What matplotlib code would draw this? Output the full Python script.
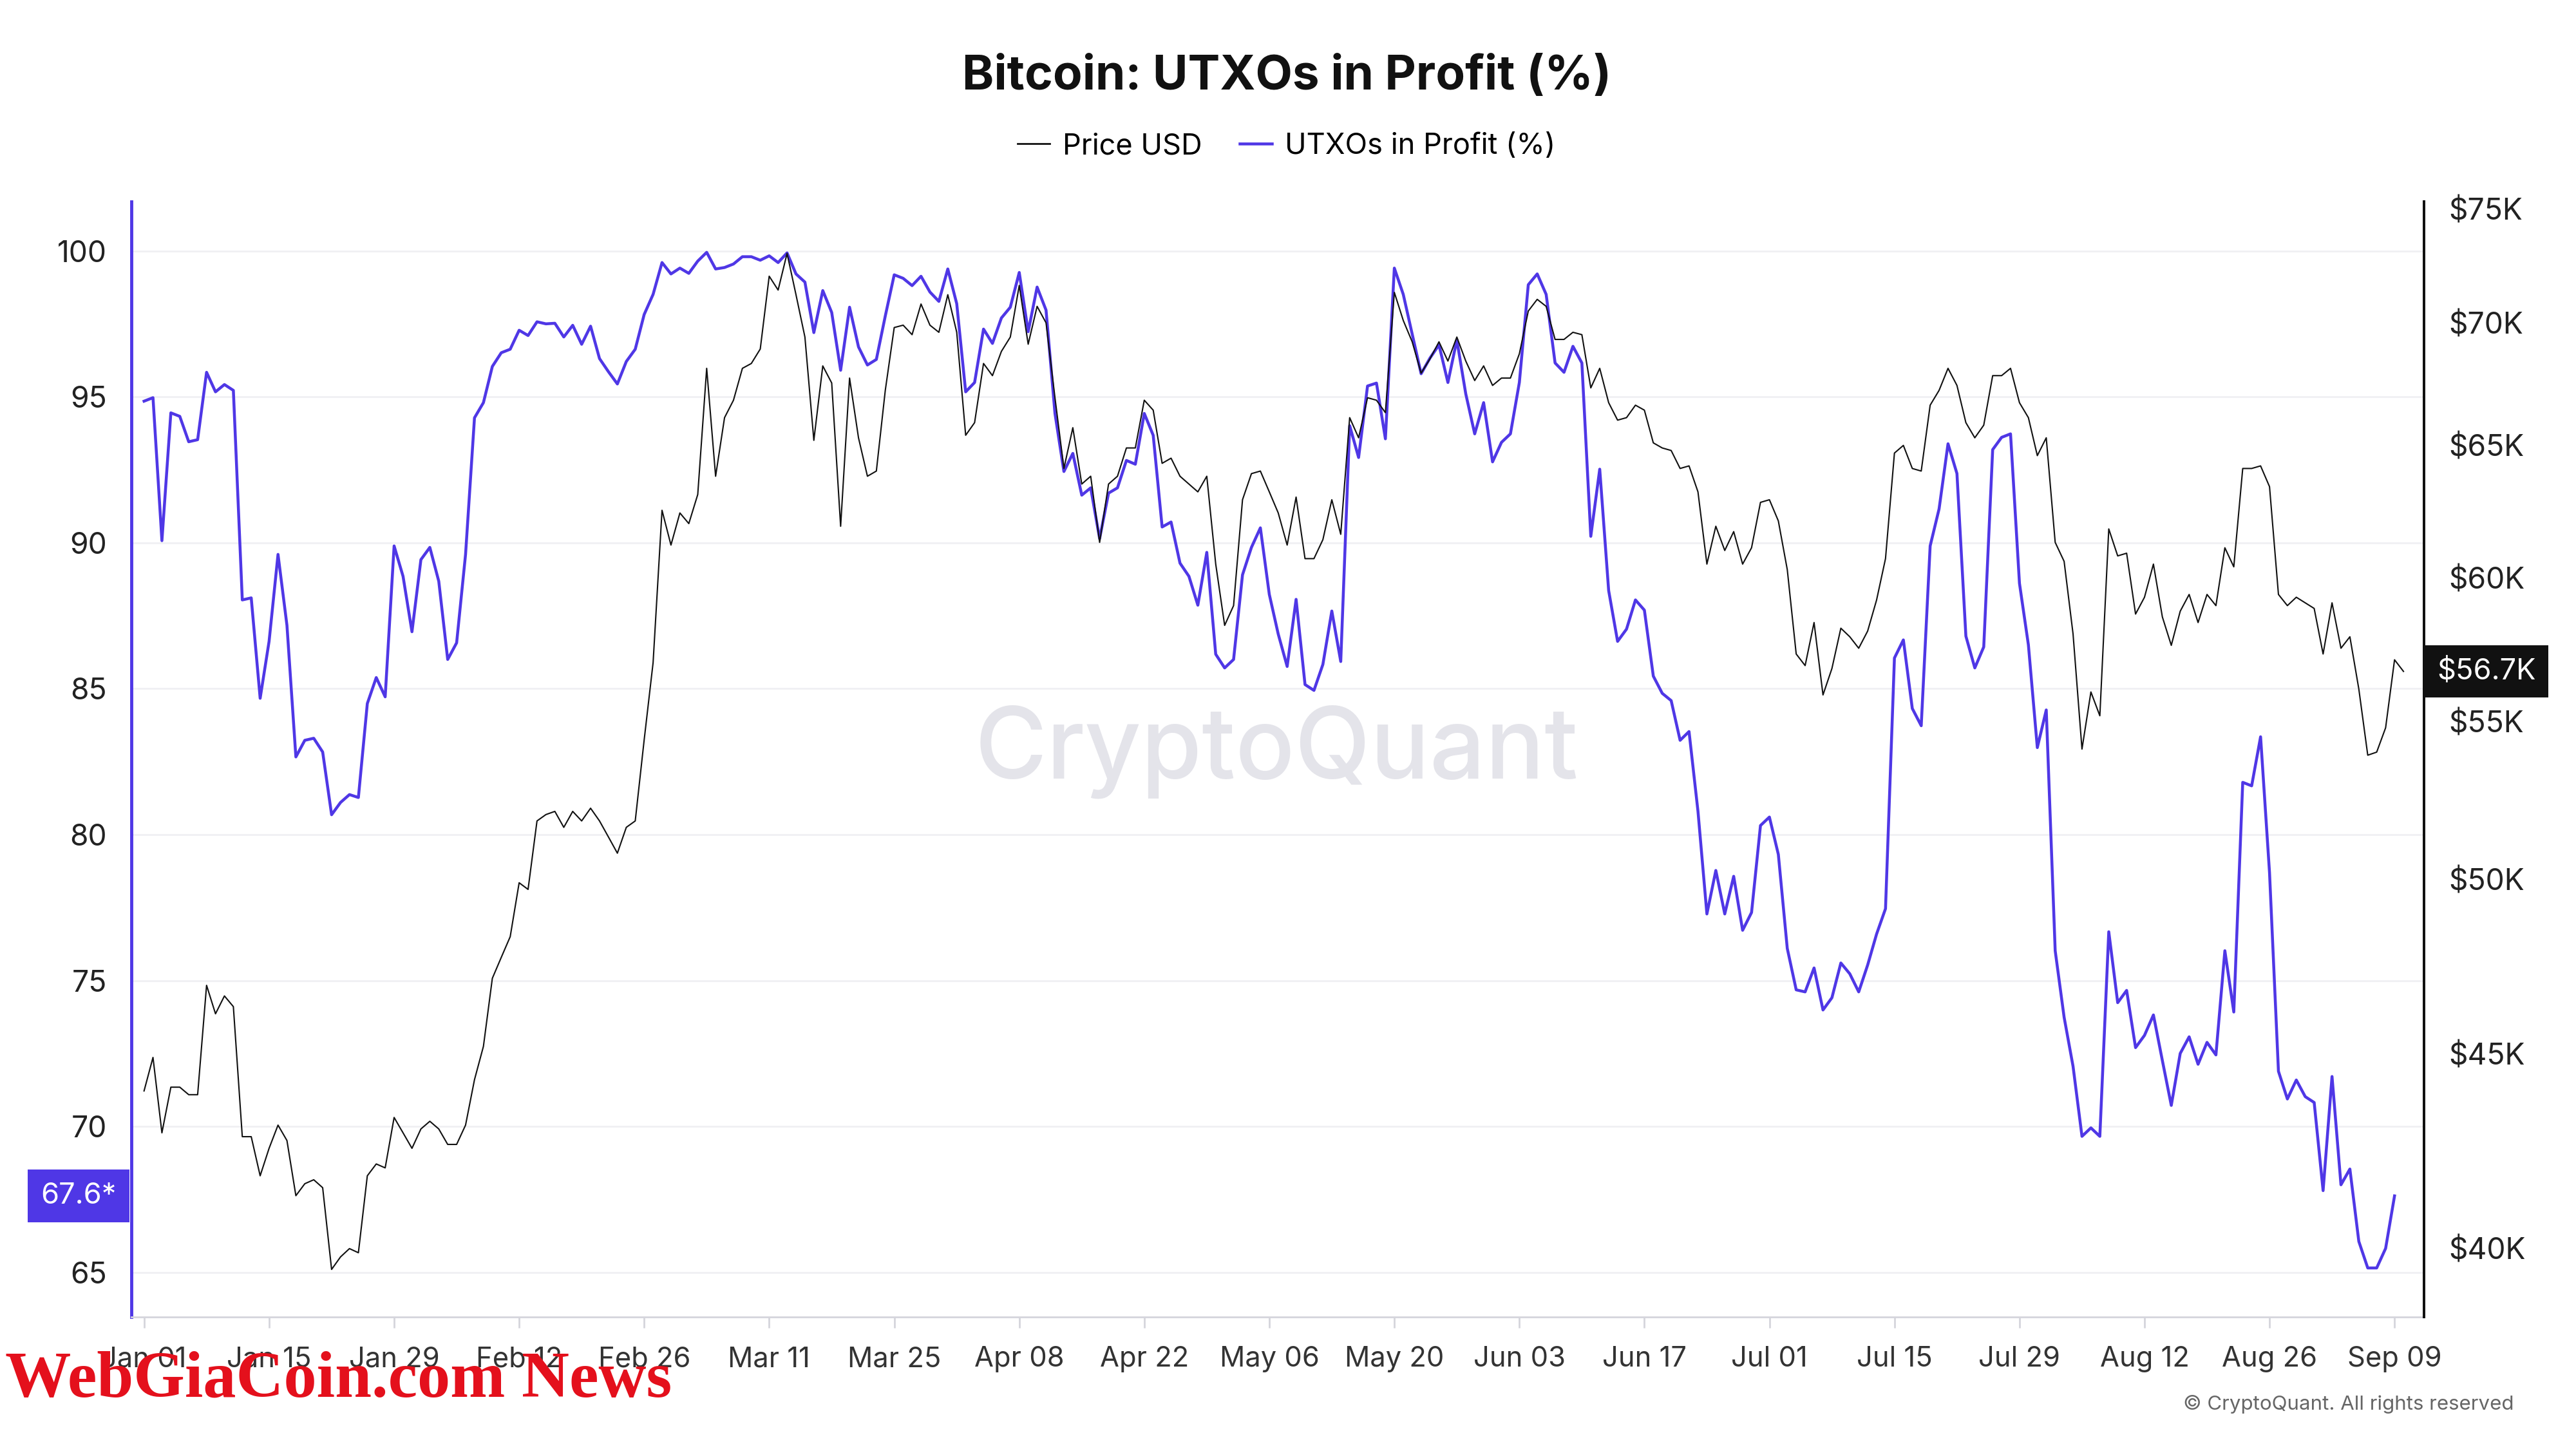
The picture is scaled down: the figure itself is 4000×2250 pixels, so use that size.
import numpy as np
import pandas as pd
import matplotlib
matplotlib.use("Agg")
import matplotlib.pyplot as plt
import matplotlib.dates as mdates
from matplotlib.ticker import FixedLocator, NullLocator
from matplotlib.transforms import blended_transform_factory
from matplotlib.lines import Line2D

plt.rcParams['font.family'] = ['Inter', 'DejaVu Sans']

# --- données ---
start_date = "2024-01-01"

utxo_profit = [
    94.85, 94.97, 90.07, 94.45, 94.33, 93.46, 93.53, 95.84, 95.17, 95.42,
    95.22, 88.04, 88.11, 84.67, 86.62, 89.60, 87.17, 82.66, 83.23, 83.30,
    82.83, 80.68, 81.10, 81.37, 81.27, 84.49, 85.38, 84.72, 89.89, 88.85,
    86.95, 89.42, 89.84, 88.68, 86.00, 86.57, 89.60, 94.28, 94.80, 96.04,
    96.51, 96.63, 97.28, 97.10, 97.57, 97.50, 97.52, 97.05, 97.45, 96.80,
    97.42, 96.31, 95.86, 95.44, 96.21, 96.63, 97.82, 98.51, 99.60, 99.21,
    99.41, 99.23, 99.65, 99.95, 99.38, 99.43, 99.55, 99.80, 99.80, 99.68,
    99.83, 99.60, 99.93, 99.21, 98.93, 97.20, 98.64, 97.89, 95.91, 98.07,
    96.71, 96.09, 96.28, 97.77, 99.18, 99.06, 98.81, 99.13, 98.59, 98.27,
    99.38, 98.19, 95.17, 95.49, 97.32, 96.83, 97.70, 98.07, 99.26, 97.23,
    98.76, 97.97, 94.43, 92.44, 93.06, 91.63, 91.88, 90.14, 91.70, 91.88,
    92.82, 92.69, 94.43, 93.68, 90.54, 90.71, 89.30, 88.85, 87.86, 89.67,
    86.18, 85.71, 86.00, 88.90, 89.84, 90.51, 88.23, 86.87, 85.76, 88.06,
    85.14, 84.94, 85.83, 87.66, 85.93, 94.01, 92.92, 95.37, 95.47, 93.56,
    99.41, 98.51, 97.15, 95.79, 96.33, 96.78, 95.49, 96.95, 95.10, 93.73,
    94.80, 92.77, 93.44, 93.73, 95.49, 98.84, 99.21, 98.51, 96.16, 95.84,
    96.73, 96.16, 90.22, 92.52, 88.36, 86.62, 87.04, 88.04, 87.69, 85.43,
    84.84, 84.59, 83.23, 83.53, 80.80, 77.28, 78.77, 77.28, 78.57, 76.72,
    77.33, 80.31, 80.60, 79.32, 76.10, 74.68, 74.61, 75.43, 73.99, 74.41,
    75.60, 75.23, 74.61, 75.53, 76.59, 77.46, 86.05, 86.67, 84.32, 83.73,
    89.89, 91.16, 93.39, 92.37, 86.80, 85.71, 86.43, 93.19, 93.61, 93.73,
    88.61, 86.50, 82.98, 84.27, 76.02, 73.74, 72.06, 69.66, 69.95, 69.66,
    76.67, 74.24, 74.66, 72.70, 73.12, 73.82, 72.26, 70.72, 72.50, 73.07,
    72.13, 72.88, 72.45, 76.02, 73.92, 81.79, 81.67, 83.35, 78.70, 71.89,
    70.94, 71.59, 71.02, 70.82, 67.80, 71.71, 68.00, 68.54, 66.06, 65.15,
    65.15, 65.82, 67.62,
]

# prix en milliers de dollars
price_k = [
    44.0, 44.9, 42.9, 44.1, 44.1, 43.9, 43.9, 46.9, 46.1, 46.6,
    46.3, 42.8, 42.8, 41.8, 42.5, 43.1, 42.7, 41.3, 41.6, 41.7,
    41.5, 39.5, 39.8, 40.0, 39.9, 41.8, 42.1, 42.0, 43.3, 42.9,
    42.5, 43.0, 43.2, 43.0, 42.6, 42.6, 43.1, 44.3, 45.2, 47.1,
    47.7, 48.3, 49.9, 49.7, 51.8, 52.0, 52.1, 51.6, 52.1, 51.8,
    52.2, 51.8, 51.3, 50.8, 51.6, 51.8, 54.4, 57.0, 62.5, 61.2,
    62.4, 62.0, 63.1, 68.1, 63.8, 66.1, 66.8, 68.1, 68.3, 68.9,
    72.0, 71.4, 73.0, 71.2, 69.4, 65.2, 68.2, 67.5, 61.9, 67.7,
    65.3, 63.8, 64.0, 67.2, 69.8, 69.9, 69.5, 70.8, 69.9, 69.6,
    71.2, 69.6, 65.4, 65.9, 68.3, 67.8, 68.8, 69.4, 71.6, 69.1,
    70.7, 70.0, 66.9, 64.1, 65.7, 63.5, 63.8, 61.3, 63.5, 63.8,
    64.9, 64.9, 66.8, 66.4, 64.3, 64.5, 63.8, 63.5, 63.2, 63.8,
    60.5, 58.3, 59.0, 62.9, 63.9, 64.0, 63.2, 62.4, 61.2, 63.0,
    60.7, 60.7, 61.4, 62.9, 61.6, 66.1, 65.3, 66.9, 66.8, 66.3,
    71.3, 70.1, 69.2, 67.9, 68.5, 69.2, 68.4, 69.4, 68.4, 67.6,
    68.2, 67.4, 67.7, 67.7, 68.7, 70.5, 71.0, 70.7, 69.3, 69.3,
    69.6, 69.5, 67.3, 68.1, 66.7, 66.0, 66.1, 66.6, 66.4, 65.1,
    64.9, 64.8, 64.1, 64.2, 63.2, 60.5, 61.9, 61.0, 61.7, 60.5,
    61.1, 62.8, 62.9, 62.1, 60.3, 57.3, 56.9, 58.4, 55.9, 56.8,
    58.2, 57.9, 57.5, 58.1, 59.2, 60.7, 64.7, 65.0, 64.1, 64.0,
    66.6, 67.2, 68.1, 67.4, 65.9, 65.3, 65.8, 67.8, 67.8, 68.1,
    66.7, 66.1, 64.6, 65.3, 61.3, 60.6, 58.0, 54.1, 56.0, 55.2,
    61.8, 60.8, 60.9, 58.7, 59.3, 60.5, 58.6, 57.6, 58.8, 59.4,
    58.4, 59.4, 59.0, 61.1, 60.4, 64.1, 64.1, 64.2, 63.4, 59.4,
    59.0, 59.3, 59.1, 58.9, 57.3, 59.1, 57.5, 57.9, 56.1, 53.9,
    54.0, 54.8, 57.1, 56.7,
]

left_ticks = [65, 70, 75, 80, 85, 90, 95, 100]
right_ticks_k = [40, 45, 50, 55, 60, 65, 70, 75]

purple = "#4f37e6"

utxo_dates = pd.date_range(start_date, periods=len(utxo_profit), freq="D")
price_dates = pd.date_range(start_date, periods=len(price_k), freq="D")
prices = np.array(price_k) * 1000

fig = plt.figure(figsize=(16, 9), dpi=250)
ax = fig.add_axes([0.051, 0.0911, 0.890, 0.7696])
ax2 = ax.twinx()

ax.plot(utxo_dates, utxo_profit, color=purple, lw=1.3, zorder=3)
ax2.plot(price_dates, prices, color="#111111", lw=0.6, zorder=3)

# axe gauche
ax.set_ylim(63.47, 101.68)
ax.yaxis.set_major_locator(FixedLocator(left_ticks))
ax.tick_params(axis="y", length=0, pad=11, labelsize=13.3, labelcolor="#222222")
ax.grid(axis="y", color="#f0f0f3", lw=0.8)
ax.set_axisbelow(True)

# axe droit (log)
ax2.set_yscale("log")
ax2.set_ylim(38380, 75310)
ax2.yaxis.set_major_locator(FixedLocator([v * 1000 for v in right_ticks_k]))
ax2.yaxis.set_minor_locator(NullLocator())
ax2.set_yticklabels([f"${v}K" for v in right_ticks_k])
ax2.tick_params(axis="y", length=0, pad=11, labelsize=13.3, labelcolor="#222222")

# axe x
x0 = pd.Timestamp(start_date)
ax.set_xlim(x0 - pd.Timedelta(days=1.42), x0 + pd.Timedelta(days=255.3))
xticks = pd.date_range(start_date, "2024-09-09", freq="14D")
ax.set_xticks(xticks)
ax.xaxis.set_major_formatter(mdates.DateFormatter("%b %d"))
ax.tick_params(axis="x", length=5, width=0.8, color="#d5d5dc", pad=8,
               labelsize=12.5, labelcolor="#333333")

for a in (ax, ax2):
    a.spines["top"].set_visible(False)
ax.spines["left"].set_color(purple)
ax.spines["left"].set_linewidth(1.4)
ax.spines["right"].set_visible(False)
ax.spines["bottom"].set_color("#d5d5dc")
ax.spines["bottom"].set_linewidth(0.8)
ax2.spines["left"].set_visible(False)
ax2.spines["bottom"].set_visible(False)
ax2.spines["right"].set_color("#111111")
ax2.spines["right"].set_linewidth(1.15)

# étiquettes des dernières valeurs
tr_left = blended_transform_factory(ax.transAxes, ax.transData)
ax.text(-0.0065, utxo_profit[-1], f"{utxo_profit[-1]:.1f}*", transform=tr_left,
        ha="right", va="center", color="white", fontsize=13, zorder=10,
        bbox=dict(boxstyle="square,pad=0.45", fc=purple, ec="none"), clip_on=False)
tr_right = blended_transform_factory(ax2.transAxes, ax2.transData)
ax2.text(1.0058, prices[-1], f"${price_k[-1]:.1f}K", transform=tr_right,
         ha="left", va="center", color="white", fontsize=13, zorder=10,
         bbox=dict(boxstyle="square,pad=0.42", fc="#111111", ec="none"), clip_on=False)

# titre et légende
fig.text(0.4995, 0.947, "Bitcoin: UTXOs in Profit (%)", ha="center", va="center",
         fontsize=21.5, fontweight="bold", color="#111111")
handles = [Line2D([], [], color="#111111", lw=0.8),
           Line2D([], [], color=purple, lw=1.3)]
fig.legend(handles, ["Price USD", "UTXOs in Profit (%)"], loc="center",
           bbox_to_anchor=(0.4995, 0.899), ncol=2, frameon=False, fontsize=13,
           handlelength=1.1, handletextpad=0.45, columnspacing=1.3)

# filigranes
fig.text(0.4955, 0.481, "CryptoQuant", ha="center", va="center", fontsize=44,
         fontweight="medium", color="#e4e4ea", zorder=0)
fig.text(0.9758, 0.031, "© CryptoQuant. All rights reserved", ha="right", va="center",
         fontsize=9, color="#666666")
fig.text(0.002, 0.047, "WebGiaCoin.com News", ha="left", va="center",
         fontsize=29.5, fontweight="bold", family="Liberation Serif", color="#e4101c")

fig.savefig("out.png", dpi=250, facecolor="white")
